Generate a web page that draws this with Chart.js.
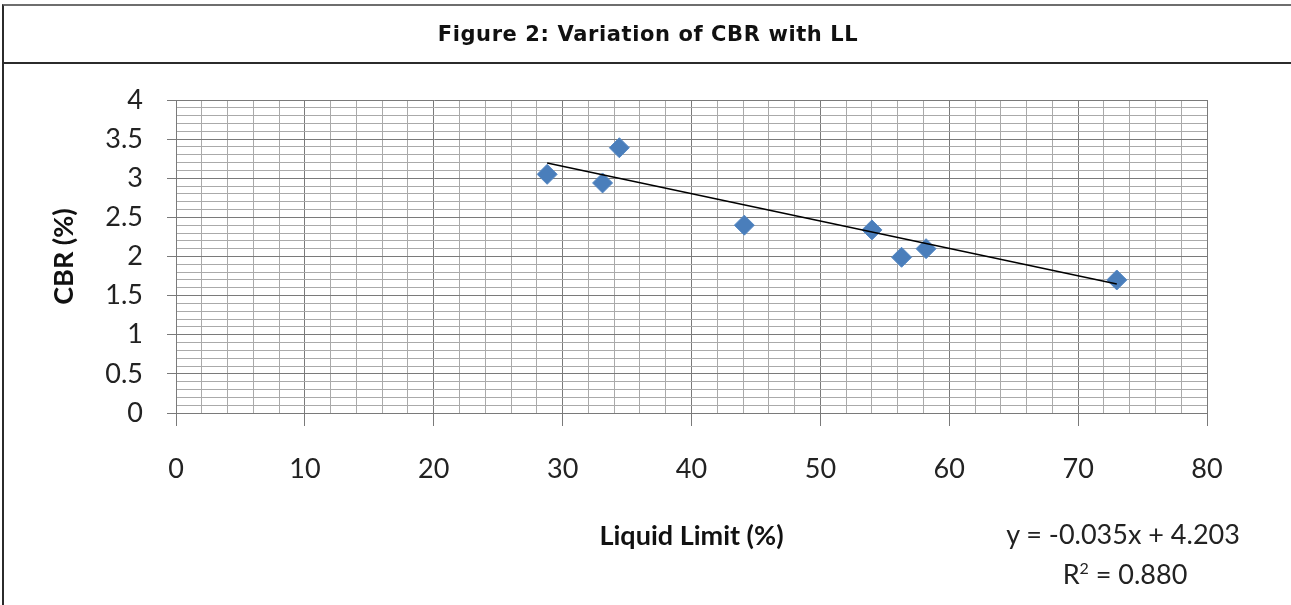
<!DOCTYPE html>
<html>
<head>
<meta charset="utf-8">
<title>Figure 2: Variation of CBR with LL</title>
<script src="https://cdn.jsdelivr.net/npm/chart.js@4.4.1/dist/chart.umd.min.js"></script>
<style>
    html, body {
        margin: 0;
        padding: 0;
        background: #ffffff;
        width: 1291px;
        height: 605px;
        overflow: hidden;
    }
    .frame {
        position: absolute;
        left: 2px;
        top: 4px;
        width: 1300px;
        height: 610px;
        border-left: 2px solid #2b2b2b;
        border-top: 2px solid #6e6e6e;
    }
    .fig-title {
        position: absolute;
        left: 0;
        top: 0;
        width: 1300px;
        height: 56px;
        border-bottom: 2px solid #2b2b2b;
        font-family: "DejaVu Sans", Verdana, sans-serif;
        font-weight: bold;
        font-size: 21px;
        letter-spacing: 0.6px;
        line-height: 56px;
        color: #111;
    }
    .fig-title span {
        position: absolute;
        left: 644px;
        transform: translateX(-50%);
        white-space: nowrap;
    }
    #chartBox {
        position: absolute;
        left: 0;
        top: 0;
        width: 1291px;
        height: 605px;
    }
    .eq {
        position: absolute;
        font-family: Lato, "Open Sans", sans-serif;
        font-size: 27px;
        color: #222;
        white-space: nowrap;
        transform: translate(-50%, -50%);
    }
</style>
</head>
<body>

<div id="chartBox"><canvas id="cbrChart" width="1291" height="605"></canvas></div>

<div class="frame">
    <div class="fig-title"><span>Figure 2: Variation of CBR with LL</span></div>
</div>

<div class="eq" style="left:1123px; top:533px;">y = -0.035x + 4.203</div>
<div class="eq" style="left:1125px; top:573px;">R<sup style="font-size:16px;">2</sup> = 0.880</div>

<script>
// Data
const liquidLimit = [28.8, 33.1, 34.4, 44.1, 54.0, 56.3, 58.2, 73.0];
const cbrValues = [3.05, 2.94, 3.39, 2.40, 2.34, 1.99, 2.10, 1.70];

// Linear trendline as printed on the figure
const trendSlope = -0.035;
const trendIntercept = 4.203;

// Axis ranges / steps
const xRange = [0, 80];
const yRange = [0, 4];
const xMajor = 10, xMinor = 2;
const yMajor = 0.5, yMinor = 0.1;

const points = liquidLimit.map((x, i) => ({ x: x, y: cbrValues[i] }));

const xMinData = Math.min(...liquidLimit);
const xMaxData = Math.max(...liquidLimit);
const trendPoints = [xMinData, xMaxData].map(x => ({ x: x, y: trendSlope * x + trendIntercept }));

function isMajor(value, step) {
    const r = value / step;
    return Math.abs(r - Math.round(r)) < 1e-6;
}

const majorColor = '#7a7a7a';
const minorColor = '#aaaaaa';
const fontFamily = 'Lato, "Open Sans", sans-serif';

const ctx = document.getElementById('cbrChart').getContext('2d');

new Chart(ctx, {
    type: 'scatter',
    data: {
        datasets: [
            {
                label: 'Trend',
                data: trendPoints,
                showLine: true,
                borderColor: '#000000',
                borderWidth: 1.5,
                pointRadius: 0,
                order: 0
            },
            {
                label: 'CBR',
                data: points,
                pointStyle: 'rectRot',
                pointRadius: 10,
                pointHoverRadius: 10,
                backgroundColor: '#4a7ebb',
                borderColor: '#5588c4',
                borderWidth: 1,
                order: 1
            }
        ]
    },
    options: {
        responsive: false,
        animation: false,
        events: [],
        layout: {
            padding: { top: 100, right: 84, left: 0, bottom: 0 }
        },
        plugins: {
            legend: { display: false },
            tooltip: { enabled: false }
        },
        scales: {
            x: {
                type: 'linear',
                min: xRange[0],
                max: xRange[1],
                afterFit: scale => { scale.height = 192; },
                ticks: {
                    stepSize: xMinor,
                    autoSkip: false,
                    maxRotation: 0,
                    padding: 27,
                    color: '#222',
                    font: { family: fontFamily, size: 27 },
                    callback: v => isMajor(v, xMajor) ? String(v) : ''
                },
                grid: {
                    color: c => isMajor(c.tick.value, xMajor) ? majorColor : minorColor,
                    tickColor: c => isMajor(c.tick.value, xMajor) ? majorColor : 'rgba(0,0,0,0)',
                    tickLength: 13,
                    lineWidth: 1
                },
                border: { color: majorColor, width: 1 },
                title: {
                    display: true,
                    text: 'Liquid Limit (%)',
                    color: '#111',
                    font: { family: fontFamily, size: 27, weight: 'bold' },
                    padding: { top: 0, bottom: 53 }
                }
            },
            y: {
                type: 'linear',
                min: yRange[0],
                max: yRange[1],
                afterFit: scale => { scale.width = 176; },
                ticks: {
                    stepSize: yMinor,
                    autoSkip: false,
                    padding: 24,
                    color: '#222',
                    font: { family: fontFamily, size: 27 },
                    callback: v => isMajor(v, yMajor) ? String(Math.round(v * 10) / 10) : ''
                },
                grid: {
                    color: c => isMajor(c.tick.value, yMajor) ? majorColor : minorColor,
                    tickColor: c => isMajor(c.tick.value, yMajor) ? majorColor : 'rgba(0,0,0,0)',
                    tickLength: 9,
                    lineWidth: 1
                },
                border: { color: majorColor, width: 1 },
                title: {
                    display: true,
                    text: 'CBR (%)',
                    color: '#111',
                    font: { family: fontFamily, size: 27, weight: 'bold' },
                    padding: { top: 48, bottom: 0 }
                }
            }
        }
    }
});
</script>
</body>
</html>
